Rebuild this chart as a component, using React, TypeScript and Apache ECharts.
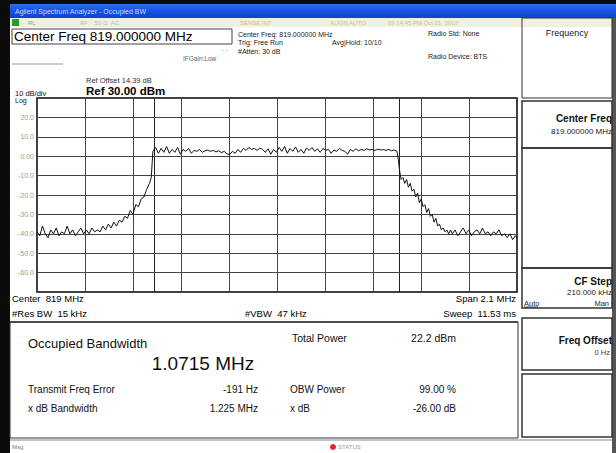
import React, { useEffect, useRef } from "react";
import * as echarts from "echarts";

// Spectrum trace: [offset from centre, kHz ; level, dBm]
const noiseLeft: [number, number][] = [
  [-1050, -39], [-1038, -41], [-1026, -36], [-1014, -40], [-1002, -42], [-990, -38],
  [-978, -40], [-966, -37], [-954, -41], [-942, -39], [-930, -40], [-918, -36],
  [-906, -40], [-894, -38], [-882, -41], [-870, -39], [-858, -37], [-846, -40],
  [-834, -38], [-822, -40], [-810, -37], [-798, -39], [-786, -38],
];
const riseLeft: [number, number][] = [
  [-774, -39], [-762, -36], [-750, -38], [-738, -35], [-726, -37], [-714, -34],
  [-702, -36], [-690, -33], [-678, -34], [-666, -31], [-654, -32], [-642, -28],
  [-630, -30], [-618, -25], [-606, -26], [-594, -22], [-582, -21], [-570, -17],
  [-558, -14], [-550, -11], [-546, -3],
];
const channelTop: [number, number][] = [
  [-543, 2.5], [-531, 4.5], [-519, 1.5], [-507, 4], [-495, 2], [-483, 5], [-471, 1.5],
  [-459, 3.5], [-447, 2], [-435, 4.5], [-423, 1], [-411, 3.5], [-399, 2.5], [-387, 4],
  [-375, 1.5], [-363, 3], [-351, 2.5], [-339, 3.5], [-327, 2], [-315, 2.8], [-303, 3.2],
  [-291, 2.5], [-279, 3], [-267, 2.2], [-255, 2.8], [-243, 1.8], [-231, 2.5], [-219, 1.2],
  [-207, 0.8], [-195, 2.5], [-183, 1.5], [-171, 3.5], [-159, 2], [-147, 4], [-135, 3],
  [-123, 4.5], [-111, 3.5], [-99, 4], [-87, 3], [-75, 4.2], [-63, 3.5], [-51, 2],
  [-39, 3.8], [-27, 1], [-15, 3.5], [-3, 2], [9, 4.5], [21, 2.5], [33, 5], [45, 1.5],
  [57, 4], [69, 2.5], [81, 4.8], [93, 2], [105, 3.5], [117, 1.5], [129, 4.2], [141, 3],
  [153, 4.5], [165, 2.5], [177, 3.8], [189, 2], [201, 4], [213, 3], [225, 3.5], [237, 1.5],
  [249, 3.2], [261, 2.5], [273, 4], [285, 3], [297, 2.5], [309, 1], [321, 3.5], [333, 2.5],
  [345, 3.8], [357, 2.8], [369, 3.5], [381, 3], [393, 3.8], [405, 3.2], [417, 3.5], [429, 3],
  [441, 3.6], [453, 3.2], [465, 3.4], [477, 3], [489, 3.5], [501, 2.8], [513, 3.2], [525, 2.5],
];
const fallRight: [number, number][] = [
  [531, -2], [537, -8], [543, -12], [551, -11], [559, -14], [567, -12], [575, -16],
  [583, -14], [591, -18], [599, -17], [607, -21], [615, -19], [623, -24], [631, -22],
  [639, -26], [647, -25], [655, -29], [663, -27], [671, -31], [679, -30], [687, -34],
  [695, -32], [703, -36], [711, -35], [719, -38], [727, -37], [735, -39], [743, -38],
  [751, -40], [759, -38],
];
const noiseRight: [number, number][] = [
  [767, -40], [779, -38], [791, -41], [803, -39], [815, -37], [827, -40], [839, -38],
  [851, -41], [863, -39], [875, -38], [887, -40], [899, -37], [911, -40], [923, -39],
  [935, -41], [947, -39], [959, -40], [971, -38], [983, -41], [995, -40], [1007, -42],
  [1019, -40], [1031, -43], [1043, -41], [1050, -42],
];

// Occupied-bandwidth marker edges (kHz from centre)
const obwEdges = [-536, 535];

// Axis settings
const spanKHz = 2100;
const refLevel = 30;
const dbPerDiv = 10;
const divisions = 10;

// Annotation texts
const headerLines = ["Center Freq: 819.000000 MHz", "Trig: Free Run", "#Atten: 30 dB"];
const measLabels = ["Total Power", "OBW Power", "x dB"];
const measValues = ["22.2 dBm", "99.00 %", "-26.00 dB"];
const leftLabels = ["Transmit Freq Error", "x dB Bandwidth"];
const leftValues = ["-191 Hz", "1.225 MHz"];

const FONT = "Arial, 'Liberation Sans', sans-serif";

function txt(text: string, x: number, y: number, size: number, opts: any = {}) {
  return {
    type: "text",
    silent: true,
    z: 10,
    style: {
      text,
      x,
      y,
      fill: opts.fill || "#111",
      fontSize: size,
      fontFamily: FONT,
      fontWeight: opts.bold ? "bold" : "normal",
      textAlign: opts.align || "left",
      textVerticalAlign: "middle",
    },
  };
}

function box(x: number, y: number, w: number, h: number, opts: any = {}) {
  return {
    type: "rect",
    silent: true,
    z: opts.z || 5,
    shape: { x, y, width: w, height: h },
    style: { fill: opts.fill || "none", stroke: opts.stroke || "#222", lineWidth: opts.lw || 1 },
  };
}

export default function App() {
  const ref = useRef<HTMLDivElement>(null);
  useEffect(() => {
    document.body.style.margin = "0";
    const chart = echarts.init(ref.current!, null, { renderer: "svg" });
    const trace = [...noiseLeft, ...riseLeft, ...channelTop, ...fallRight, ...noiseRight];
    const half = spanKHz / 2;
    const graphic: any[] = [
      // window frame
      { type: "rect", silent: true, z: 1, shape: { x: 0, y: 0, width: 616, height: 453 }, style: { fill: "#fff" } },
      { type: "rect", silent: true, z: 2, shape: { x: 0, y: 0, width: 10, height: 453 }, style: { fill: "#0b0b0b" } },
      { type: "rect", silent: true, z: 2, shape: { x: 0, y: 0, width: 616, height: 4 }, style: { fill: "#0b0b0b" } },
      { type: "rect", silent: true, z: 2, shape: { x: 612, y: 4, width: 4, height: 449 }, style: { fill: "#555" } },
      {
        type: "rect", silent: true, z: 3, shape: { x: 10, y: 4, width: 606, height: 14 },
        style: {
          fill: new echarts.graphic.LinearGradient(0, 0, 0, 1, [
            { offset: 0, color: "#2f6df0" }, { offset: 0.5, color: "#1552e0" }, { offset: 1, color: "#0c44cf" },
          ]),
        },
      },
      txt("Agilent Spectrum Analyzer - Occupied BW", 15, 11, 7, { fill: "#c9d8ff" }),
      { type: "rect", silent: true, z: 3, shape: { x: 10, y: 18, width: 602, height: 9 }, style: { fill: "#f1eee2" } },
      { type: "rect", silent: true, z: 4, shape: { x: 12, y: 19, width: 7, height: 7 }, style: { fill: "#2b9a2b" } },
      txt("RL", 28, 22.5, 6, { fill: "#9a9a9a" }),
      txt("RF    50 Ω  AC", 80, 22.5, 6, { fill: "#bbb" }),
      txt("SENSE:INT", 240, 22.5, 6, { fill: "#d9b98a" }),
      txt("ALIGN AUTO", 330, 22.5, 6, { fill: "#d9b98a" }),
      txt("03:14:45 PM Oct 21, 2010", 388, 22.5, 6, { fill: "#d9b98a" }),
      // header
      box(12, 29, 220, 15, { stroke: "#444" }),
      txt("Center Freq 819.000000 MHz", 14, 36.5, 13.5, { fill: "#000" }),
      txt("IFGain:Low", 183, 58, 6.5, { fill: "#666" }),
      txt("- -", 222, 50, 6, { fill: "#666" }),
      { type: "line", silent: true, z: 5, shape: { x1: 12, y1: 64, x2: 63, y2: 64 }, style: { stroke: "#999", lineWidth: 1 } },
      ...headerLines.map((t, i) => txt(t, 238, 34 + i * 8.7, 7, { fill: "#222" })),
      txt("Avg|Hold: 10/10", 332, 42.5, 7, { fill: "#222" }),
      txt("Radio Std: None", 428, 33.5, 7, { fill: "#222" }),
      txt("Radio Device: BTS", 428, 56, 7, { fill: "#222" }),
      txt("Ref Offset 14.39 dB", 86, 80, 7.5, { fill: "#333" }),
      txt("Ref 30.00 dBm", 86, 91, 11.5, { fill: "#000", bold: true }),
      txt("10 dB/div", 15, 93, 7.5, { fill: "#111" }),
      txt("Log", 15, 100.5, 7, { fill: "#111" }),
      // below plot
      txt("Center  819 MHz", 12, 298, 9.5, { fill: "#000" }),
      txt("#Res BW  15 kHz", 12, 313, 9.5, { fill: "#000" }),
      txt("#VBW  47 kHz", 245, 313, 9.5, { fill: "#000" }),
      txt("Span 2.1 MHz", 516, 298, 9.5, { fill: "#000", align: "right" }),
      txt("Sweep  11.53 ms", 516, 313, 9.5, { fill: "#000", align: "right" }),
      { type: "line", silent: true, z: 5, shape: { x1: 10, y1: 322, x2: 518, y2: 322 }, style: { stroke: "#333", lineWidth: 1.5 } },
      // measurement panel
      box(10, 322, 508, 116, { stroke: "#333" }),
      txt("Occupied Bandwidth", 28, 343, 13, { fill: "#111" }),
      txt("1.0715 MHz", 203, 363, 19, { fill: "#111", align: "center" }),
      ...leftLabels.map((t, i) => txt(t, 28, 389 + i * 19, 10, { fill: "#111" })),
      ...leftValues.map((t, i) => txt(t, 258, 389 + i * 19, 10, { fill: "#111", align: "right" })),
      txt(measLabels[0], 292, 338, 10.5, { fill: "#111" }),
      txt(measValues[0], 456, 338, 10.5, { fill: "#111", align: "right" }),
      ...measLabels.slice(1).map((t, i) => txt(t, 290, 389 + i * 19, 10, { fill: "#111" })),
      ...measValues.slice(1).map((t, i) => txt(t, 456, 389 + i * 19, 10, { fill: "#111", align: "right" })),
      // status bar
      { type: "line", silent: true, z: 5, shape: { x1: 10, y1: 440, x2: 612, y2: 440 }, style: { stroke: "#888", lineWidth: 1 } },
      txt("Msg", 12, 447, 6, { fill: "#777" }),
      { type: "circle", silent: true, z: 6, shape: { cx: 333, cy: 447, r: 3 }, style: { fill: "#d23" } },
      txt("STATUS", 338, 447, 6, { fill: "#999" }),
      // right soft-key panel
      box(522, 18, 90, 80, { stroke: "#333" }),
      txt("Frequency", 567, 33, 9, { fill: "#222", align: "center" }),
      box(522, 101, 90, 47, { stroke: "#333", lw: 1.5 }),
      txt("Center Freq", 612, 118, 10, { fill: "#111", align: "right", bold: true }),
      txt("819.000000 MHz", 612, 131, 8, { fill: "#222", align: "right" }),
      box(522, 148, 90, 120, { stroke: "#333", lw: 1.5 }),
      box(522, 268, 90, 40, { stroke: "#333", lw: 1.5 }),
      txt("CF Step", 612, 281, 10, { fill: "#111", align: "right", bold: true }),
      txt("210.000 kHz", 612, 292, 8, { fill: "#222", align: "right" }),
      txt("Auto", 524, 303, 7.5, { fill: "#222" }),
      { type: "line", silent: true, z: 6, shape: { x1: 524, y1: 307, x2: 538, y2: 307 }, style: { stroke: "#222", lineWidth: 0.8 } },
      txt("Man", 609, 303, 7.5, { fill: "#222", align: "right" }),
      box(522, 318, 90, 52, { stroke: "#333", lw: 1.5 }),
      txt("Freq Offset", 612, 340, 10, { fill: "#111", align: "right", bold: true }),
      txt("0 Hz", 610, 352, 7.5, { fill: "#444", align: "right" }),
      box(522, 374, 90, 63, { stroke: "#333", lw: 1.5 }),
    ];

    chart.setOption({
      animation: false,
      backgroundColor: "#fff",
      graphic,
      grid: {
        left: 37, top: 98, right: 616 - 517, bottom: 453 - 292,
        show: true, borderColor: "#000", borderWidth: 1.5, backgroundColor: "transparent", z: 20,
      },
      xAxis: {
        type: "value",
        min: -half,
        max: half,
        interval: spanKHz / divisions,
        axisLabel: { show: false },
        axisTick: { show: false },
        axisLine: { show: false },
        splitLine: { show: true, lineStyle: { color: "#444", width: 1 } },
        z: 20,
      },
      yAxis: {
        type: "value",
        min: refLevel - dbPerDiv * divisions,
        max: refLevel,
        interval: dbPerDiv,
        axisTick: { show: false },
        axisLine: { show: false },
        splitLine: { show: true, lineStyle: { color: "#444", width: 1 } },
        axisLabel: {
          margin: 3,
          color: "#9a9a9a",
          fontSize: 7,
          fontFamily: FONT,
          formatter: (v: number) =>
            v === refLevel || v === refLevel - dbPerDiv * divisions ? "" : v === 0 ? "0.00" : v.toFixed(1),
        },
        z: 20,
      },
      series: [
        {
          type: "line",
          data: trace,
          symbol: "none",
          z: 30,
          lineStyle: { color: "#111", width: 1 },
          markLine: {
            silent: true,
            symbol: "none",
            label: { show: false },
            lineStyle: { color: "#222", width: 1, type: "solid" },
            data: obwEdges.map((x) => ({ xAxis: x })),
          },
        },
      ],
    });
    return () => chart.dispose();
  }, []);
  return <div ref={ref} style={{ position: "absolute", left: 0, top: 0, width: 616, height: 453 }} />;
}
